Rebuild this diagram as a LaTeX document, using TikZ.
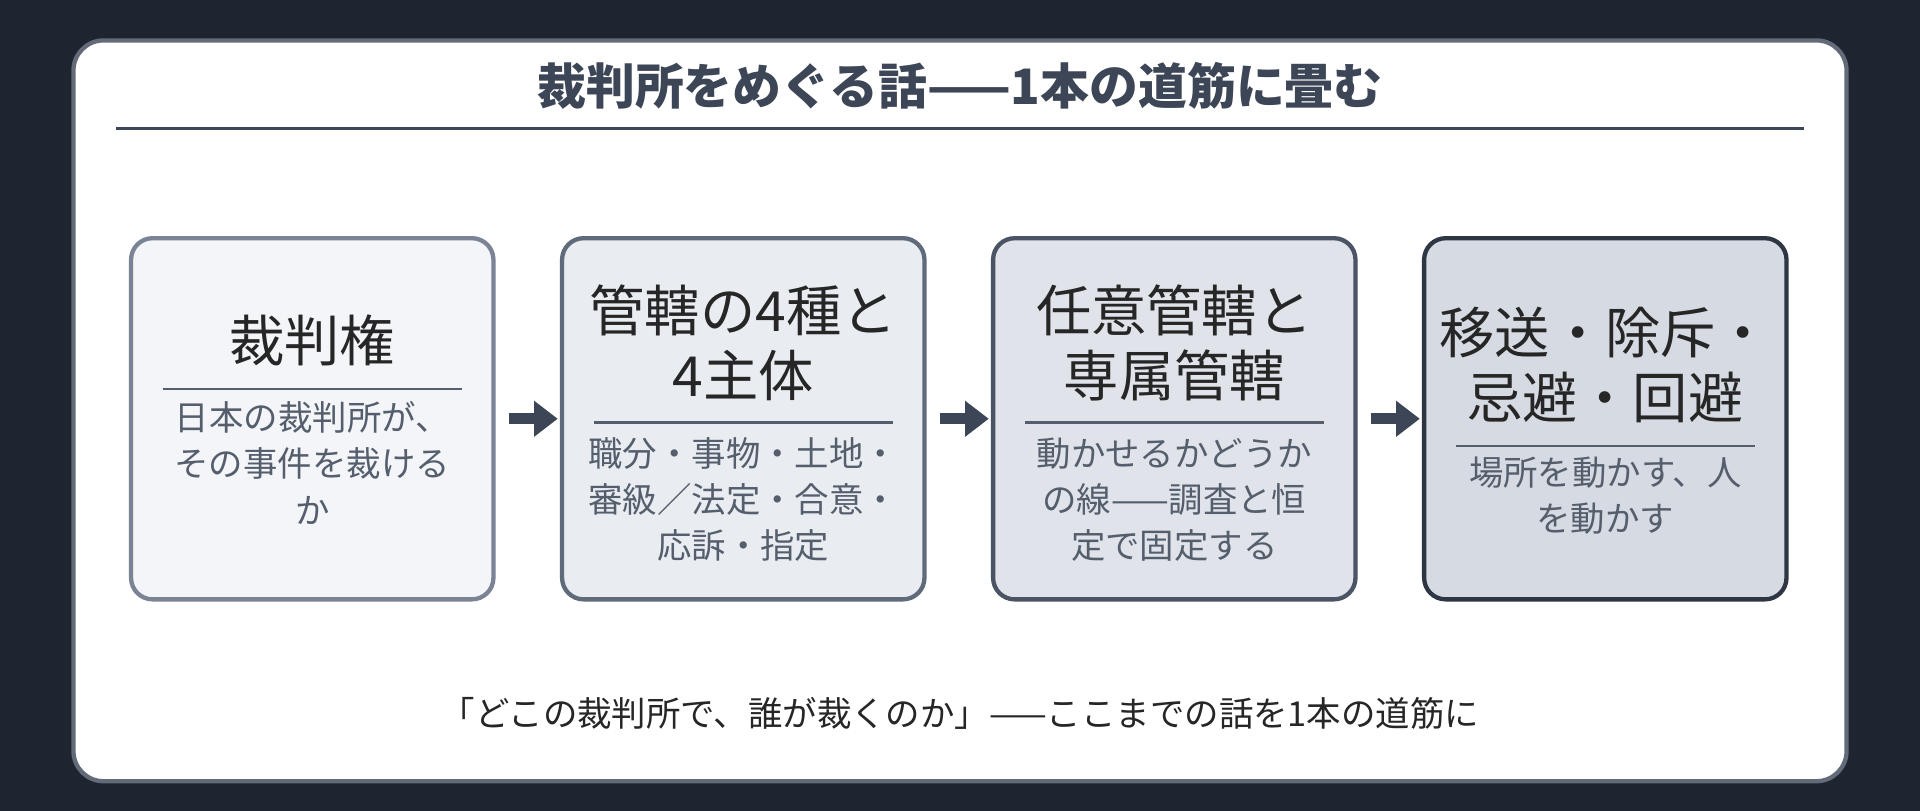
\documentclass[tikz,border=0pt]{standalone}
\usepackage{fontspec}
\setmainfont{Noto Sans CJK JP}
\usetikzlibrary{arrows.meta}
\definecolor{bgdark}{HTML}{1E2530}
\definecolor{ink}{HTML}{3D4656}
\definecolor{bodygray}{HTML}{555E6C}
\tikzset{
  stage/.style={ % one step of the path
    draw, line width=2pt, rounded corners=10pt,
    minimum width=5.92cm, minimum height=5.9cm, inner sep=0pt
  },
  head/.style={font=\fontsize{25.7}{30.6}\selectfont, text=black!85, align=center},
  body/.style={font=\fontsize{16}{21.5}\selectfont, text=bodygray, align=center},
  flow/.style={-{Triangle[length=11pt,width=16pt]}, line width=5pt, ink}
}
\begin{document}
\begin{tikzpicture}[x=0.02cm,y=-0.02cm]
  \fill[bgdark] (0,0) rectangle (1568,662);
  \draw[fill=white, draw=ink!80, line width=2pt, rounded corners=14pt] (60,33) rectangle (1508,638);

  \node[font=\fontsize{22.7}{26}\selectfont\bfseries, text=ink] (title) at (784,70) {裁判所をめぐる話——1本の道筋に畳む};
  \draw[ink, line width=1.2pt] (95,105) -- (1473,105);

  \node[stage, fill={rgb,255:red,243;green,245;blue,248}, draw={rgb,255:red,122;green,132;blue,148}] (s1) at (255,342) {};
  \node[stage, fill={rgb,255:red,233;green,237;blue,242}, draw={rgb,255:red,95;green,106;blue,122}] (s2) at (607,342) {};
  \node[stage, fill={rgb,255:red,224;green,228;blue,234}, draw={rgb,255:red,74;green,84;blue,100}] (s3) at (959,342) {};
  \node[stage, fill={rgb,255:red,214;green,218;blue,226}, draw={rgb,255:red,46;green,54;blue,68}] (s4) at (1311,342) {};

  % headings, rules and notes
  \node[head] (h1) at (255,278) {裁判権};
  \draw[bodygray, line width=1pt] (133,318) -- (377,318);
  \node[body] (b1) at (255,378) {日本の裁判所が、\\その事件を裁ける\\か};

  \node[head] (h2) at (607,280) {管轄の4種と\\4主体};
  \draw[bodygray, line width=1pt] (485,345) -- (729,345);
  \node[body] (b2) at (607,408) {職分・事物・土地・\\審級／法定・合意・\\応訴・指定};

  \node[head] (h3) at (959,280) {任意管轄と\\専属管轄};
  \draw[bodygray, line width=1pt] (837,345) -- (1081,345);
  \node[body] (b3) at (959,408) {動かせるかどうか\\の線——調査と恒\\定で固定する};

  \node[head] (h4) at (1311,298) {移送・除斥・\\忌避・回避};
  \draw[bodygray, line width=1pt] (1189,364) -- (1433,364);
  \node[body] (b4) at (1311,405) {場所を動かす、人\\を動かす};

  \foreach \a/\b in {s1/s2, s2/s3, s3/s4}
    \draw[flow] ([xshift=6pt]\a.east) -- ([xshift=-1pt]\b.west);

  \node[font=\fontsize{16}{20}\selectfont, text=black!85] (foot) at (784,583)
    {「どこの裁判所で、誰が裁くのか」——ここまでの話を1本の道筋に};
\end{tikzpicture}
\end{document}
